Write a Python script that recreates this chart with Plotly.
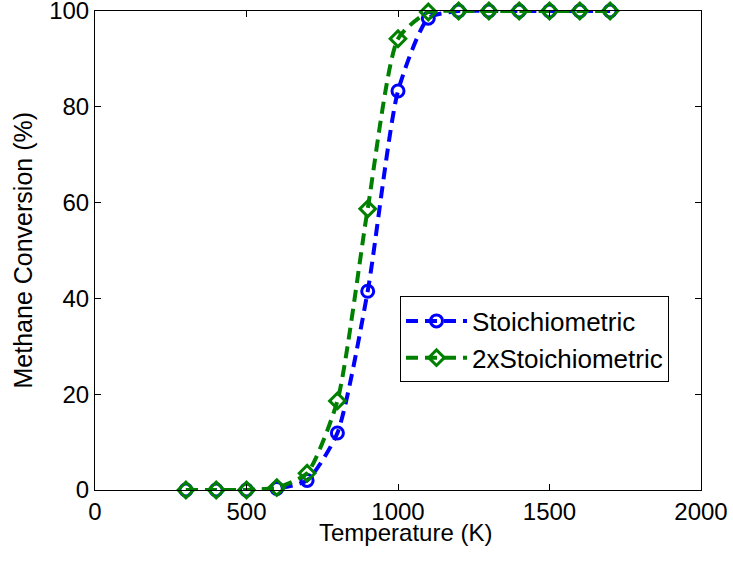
import plotly.graph_objects as go

temperature = [300, 400, 500, 600, 700, 800, 900, 1000, 1100, 1200, 1300, 1400, 1500, 1600, 1700]
stoich = [0, 0, 0, 0.3, 2.0, 11.9, 41.5, 83.3, 98.5, 100, 100, 100, 100, 100, 100]
stoich2x = [0, 0, 0, 0.5, 3.5, 18.6, 58.7, 94.2, 99.8, 100, 100, 100, 100, 100, 100]

x_ticks = [0, 500, 1000, 1500, 2000]
y_ticks = [0, 20, 40, 60, 80, 100]
x_title = "Temperature (K)"
y_title = "Methane Conversion (%)"

FONT = "Liberation Sans, Arial"
FS = 24

fig = go.Figure()
fig.add_trace(go.Scatter(
    x=temperature, y=stoich, name="Stoichiometric", mode="lines+markers",
    line=dict(color="#0000ff", width=4, dash="12px,7px", shape="spline", smoothing=0.6),
    marker=dict(symbol="circle-open", size=12, color="#0000ff", line=dict(width=3)),
    cliponaxis=False,
))
fig.add_trace(go.Scatter(
    x=temperature, y=stoich2x, name="2xStoichiometric", mode="lines+markers",
    line=dict(color="#008000", width=4, dash="12px,7px", shape="spline", smoothing=0.6),
    marker=dict(symbol="diamond-open", size=12, color="#008000", line=dict(width=3)),
    cliponaxis=False,
))

axis_common = dict(
    showline=True, linecolor="black", linewidth=1, mirror="ticks",
    ticks="inside", ticklen=6, tickcolor="black", showgrid=False, zeroline=False,
    automargin=False, ticklabeloverflow="allow",
    tickfont=dict(family=FONT, size=FS, color="black"),
)
fig.update_xaxes(range=[0, 2000], tickvals=x_ticks, **axis_common)
fig.update_yaxes(range=[0, 100], tickvals=y_ticks, **axis_common)

fig.add_annotation(text=x_title, xref="paper", yref="paper", x=0.5116, y=0,
                   xanchor="center", yanchor="middle", yshift=-42, showarrow=False,
                   font=dict(family=FONT, size=FS, color="black"))
fig.add_annotation(text=y_title, xref="paper", yref="paper", x=0, y=0.5,
                   xanchor="center", yanchor="middle", xshift=-73, textangle=-90,
                   showarrow=False, font=dict(family=FONT, size=25, color="black"))

fig.update_layout(
    width=733, height=561,
    margin=dict(l=95, r=32, t=11, b=71),
    plot_bgcolor="white", paper_bgcolor="white",
    legend=dict(x=0.5033, y=0.404, xanchor="left", yanchor="top",
                bordercolor="black", borderwidth=1, bgcolor="white",
                font=dict(family=FONT, size=26, color="black"),
                itemwidth=61),
    showlegend=True,
)

fig.write_html("out.html", config={"displayModeBar": False},
               post_script="document.body.style.margin='0';document.body.style.overflow='hidden';")
